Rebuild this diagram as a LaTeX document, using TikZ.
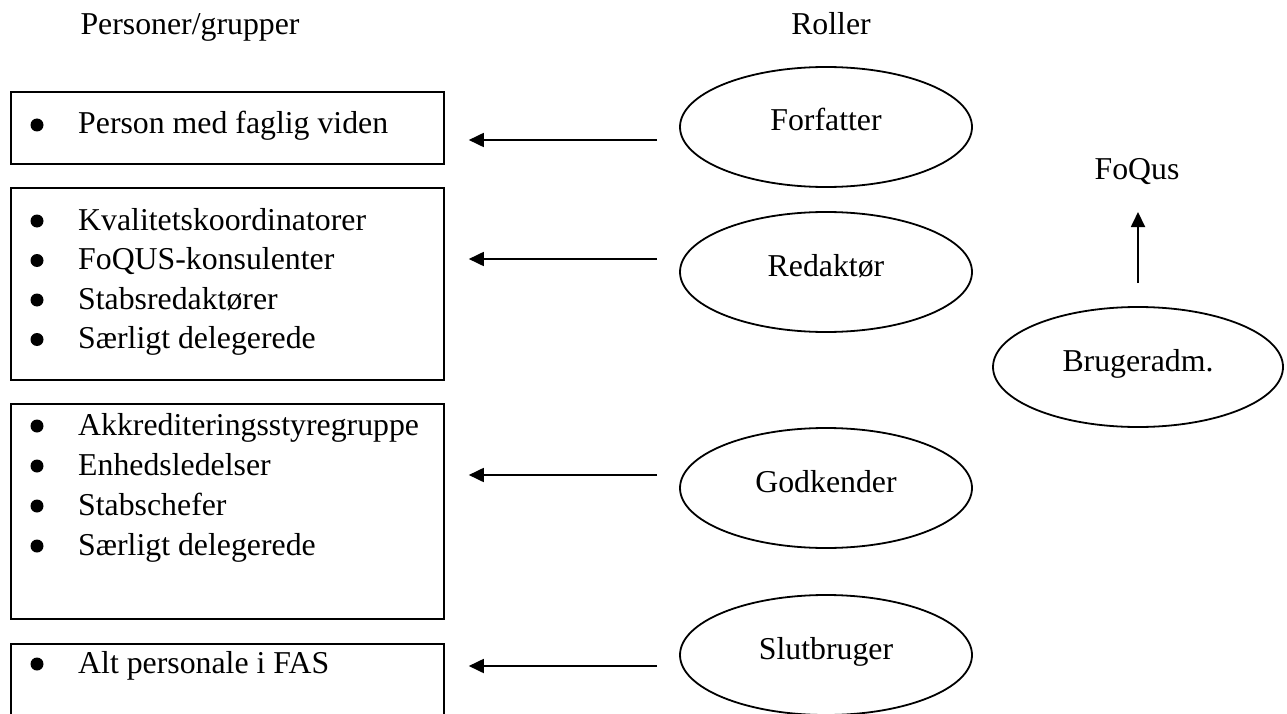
\documentclass[tikz,border=0pt]{standalone}
\usepackage{fontspec}
\setmainfont{Liberation Serif}
\usetikzlibrary{arrows.meta,shapes.geometric}
\begin{document}
\begin{tikzpicture}[x=1pt,y=-1pt,
  font=\fontsize{31.8}{39.7}\selectfont,
  box/.style={draw, line width=1.8pt, inner sep=0pt, minimum width=433pt, anchor=north west},
  role/.style={draw, ellipse, line width=1.8pt, minimum width=292pt, minimum height=120pt,
    inner sep=0pt, text height=22pt, text depth=14pt},
  item/.style={anchor=base west, inner sep=0pt},
  head/.style={anchor=base, inner sep=0pt},
  conn/.style={-{Triangle[length=15pt,width=14pt]}, line width=1.8pt}]
\clip (0,0) rectangle (1287,714);
\fill[white] (0,0) rectangle (1287,714);

% headers
\node[head] (h1) at (190,35) {Personer/grupper};
\node[head] (h2) at (831,35) {Roller};

% boxes
\node[box, minimum height=72pt]  (b1) at (10,91)  {};
\node[box, minimum height=192pt] (b2) at (10,187) {};
\node[box, minimum height=215pt] (b3) at (10,403) {};
\node[box, minimum height=120pt] (b4) at (10,643) {};

% bullets and items
\foreach \yy/\txt/\nm in {134/Person med faglig viden/i1,
    230/Kvalitetskoordinatorer/i2, 269.5/FoQUS-konsulenter/i3, 309/Stabsredaktører/i4, 348.5/Særligt delegerede/i5,
    435/Akkrediteringsstyregruppe/i6, 475/Enhedsledelser/i7, 515/Stabschefer/i8, 555/Særligt delegerede/i9,
    673/Alt personale i FAS/i10}{
  \fill (37,\yy-9) circle[radius=6.5pt];
  \node[item] (\nm) at (78,\yy) {\txt};
}

% roles
\node[role] (f)  at (826,127) {Forfatter};
\node[role] (r)  at (826,272) {Redaktør};
\node[role] (g)  at (826,488) {Godkender};
\node[role] (s)  at (826,655) {Slutbruger};
\node[role, minimum width=290pt] (ba) at (1138,367) {Brugeradm.};
\node[head] (fq) at (1137,180) {FoQus};

% connectors
\coordinate (a1) at ([xshift=-22pt,yshift=-13pt]f.west);
\coordinate (a2) at ([xshift=-22pt,yshift=13pt]r.west);
\coordinate (a3) at ([xshift=-22pt,yshift=13pt]g.west);
\coordinate (a4) at ([xshift=-22pt,yshift=-11pt]s.west);
\draw[conn, shorten >=24pt] (a1) -- (a1 -| b1.east);
\draw[conn, shorten >=24pt] (a2) -- (a2 -| b2.east);
\draw[conn, shorten >=24pt] (a3) -- (a3 -| b3.east);
\draw[conn, shorten >=24pt] (a4) -- (a4 -| b4.east);
\draw[conn, shorten <=23pt, shorten >=32pt] (ba.north) -- (ba.north |- fq.base);
\end{tikzpicture}
\end{document}
